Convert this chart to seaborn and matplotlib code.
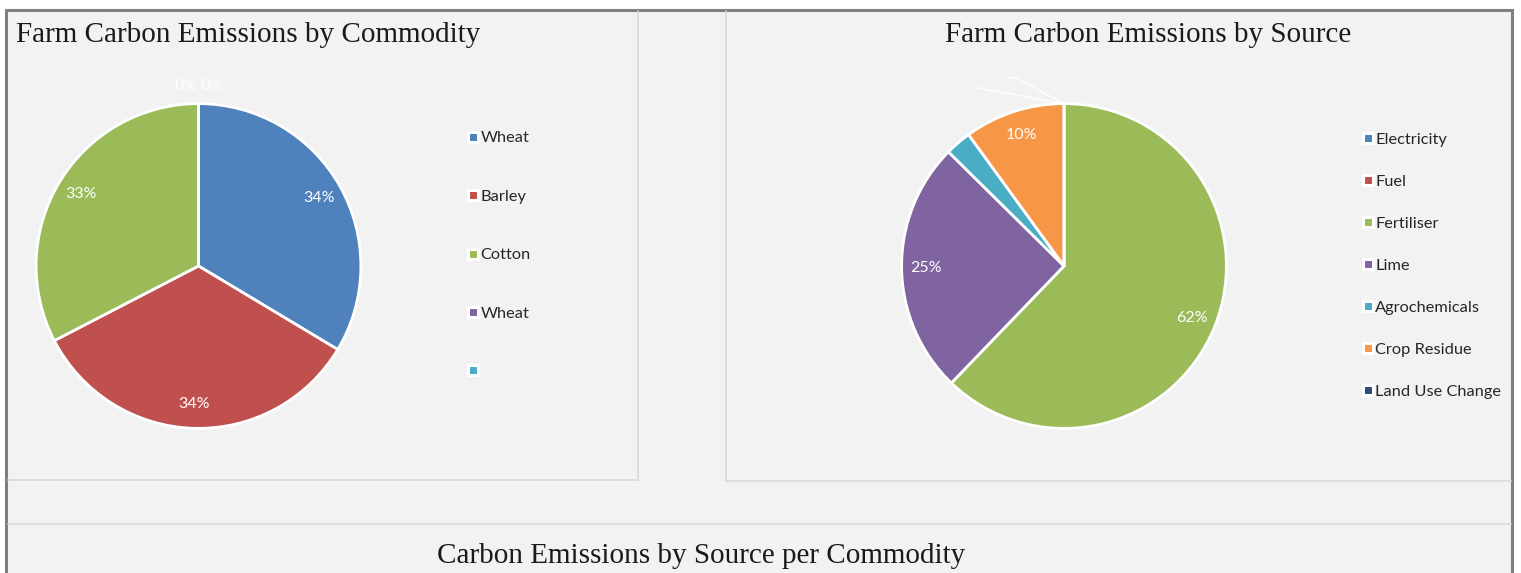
import matplotlib
matplotlib.use("Agg")
import matplotlib.pyplot as plt
import seaborn as sns
from matplotlib.patches import Rectangle
from matplotlib.lines import Line2D

# --- data -------------------------------------------------------------
commodities = ["Wheat", "Barley", "Cotton", "Wheat", ""]
commodity_share = [33.6, 33.8, 32.6, 0.0, 0.0]

sources = ["Electricity", "Fuel", "Fertiliser", "Lime",
           "Agrochemicals", "Crop Residue", "Land Use Change"]
source_share = [0.0, 0.0, 62.2, 25.2, 2.6, 10.0, 0.0]

bottom_title = "Carbon Emissions by Source per Commodity"
left_title = "Farm Carbon Emissions by Commodity"
right_title = "Farm Carbon Emissions by Source"

office = ["#4F81BD", "#C0504D", "#9BBB59", "#8064A2",
          "#4BACC6", "#F79646", "#2C4D75"]

# --- styling ----------------------------------------------------------
sns.set_theme(style="white")
plt.rcParams["font.family"] = ["Lato", "DejaVu Sans"]
palette = sns.color_palette(office)

W, H = 1521, 573
fig = plt.figure(figsize=(W / 100, H / 100), dpi=100)
fig.patch.set_facecolor("white")


def fx(x):
    return x / W


def fy(y):
    return 1 - y / H


def px_line(x0, y0, x1, y1, color, lw):
    fig.add_artist(Line2D([fx(x0), fx(x1)], [fy(y0), fy(y1)],
                          transform=fig.transFigure, color=color, lw=lw,
                          zorder=-5))


# sheet background with dark outer frame
fig.add_artist(Rectangle((fx(6), fy(600)), fx(1512) - fx(6), fy(10) - fy(600),
                         transform=fig.transFigure, facecolor="#F2F2F2",
                         edgecolor="#7F7F7F", lw=2.2, zorder=-10))
# chart panel outlines
panel = "#D9D9D9"
px_line(638, 11, 638, 480, panel, 1.2)
px_line(8, 480, 638, 480, panel, 1.2)
px_line(726, 11, 726, 481, panel, 1.2)
px_line(726, 481, 1511, 481, panel, 1.2)
px_line(8, 524, 1511, 524, panel, 1.2)

title_font = dict(family=["Liberation Serif", "DejaVu Serif"], size=21,
                  color="#1A1A1A")
fig.text(fx(16), fy(35), left_title, ha="left", va="center", **title_font)
fig.text(fx(1148), fy(35), right_title, ha="center", va="center", **title_font)
fig.text(fx(701), fy(556), bottom_title, ha="center", va="center", **title_font)


def pie_axes(cx, cy, r):
    ax = fig.add_axes([fx(cx - r), fy(cy + r), 2 * r / W, 2 * r / H])
    ax.set_axis_off()
    return ax


def draw_pie(ax, values, colors, min_label):
    wedges, _, autotexts = ax.pie(
        values, colors=colors, startangle=90, counterclock=False,
        radius=1, pctdistance=0.85,
        autopct=lambda p: f"{p:.0f}%" if p >= min_label else "",
        wedgeprops=dict(edgecolor="white", linewidth=2),
        textprops=dict(color="white", fontsize=11.5),
        normalize=True,
    )
    ax.set_xlim(-1.01, 1.01)
    ax.set_ylim(-1.01, 1.01)
    return wedges, autotexts


# left pie: share by commodity
axl = pie_axes(198.5, 266, 164)
_, at_left = draw_pie(axl, commodity_share, palette[:5], -1)
zero_idx = [i for i, v in enumerate(commodity_share) if v == 0]
for k, i in enumerate(zero_idx):
    at_left[i].set_position(((k - (len(zero_idx) - 1) / 2) * 0.16, 1.11))

# right pie: share by source
axr = pie_axes(1064, 266, 164)
draw_pie(axr, source_share, palette[:7], 5)
# leader lines of the empty slices at the top
for xs, ys in (([0, -0.55], [1, 1.10]), ([0, -0.30, -0.34], [1, 1.16, 1.16])):
    axr.plot(xs, ys, color="white", lw=1, clip_on=False)


def legend(labels, colors, x, y, spacing):
    handles = [Line2D([], [], ls="", marker="s", markersize=7.2,
                      markerfacecolor=c, markeredgecolor="white",
                      markeredgewidth=2.2) for c in colors]
    fig.legend(handles, labels, loc="upper left",
               bbox_to_anchor=(fx(x), fy(y)), frameon=False,
               borderpad=0, borderaxespad=0, handlelength=0.7,
               handletextpad=0.12, labelspacing=spacing, fontsize=11.8,
               labelcolor="#262626")


legend(commodities, palette[:5], 467, 131, 2.68)
legend(sources, palette[:7], 1362, 132.5, 1.68)

fig.savefig("out.png", dpi=100)
